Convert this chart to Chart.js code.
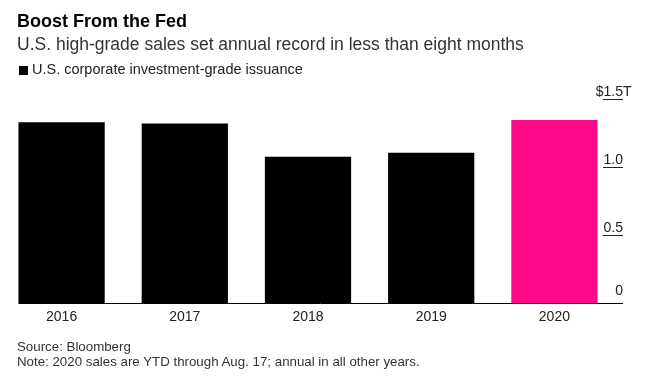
<!DOCTYPE html>
<html>
<head>
<meta charset="utf-8">
<script src="https://cdn.jsdelivr.net/npm/chart.js@4.4.0/dist/chart.umd.min.js"></script>
<style>
  html, body { margin: 0; padding: 0; background: #fff; }
  #wrap { position: relative; width: 648px; height: 384px; overflow: hidden;
          font-family: "Liberation Sans", Arial, sans-serif; color: #222; }
  #chart { position: absolute; left: 0; top: 0; }
  .txt { position: absolute; left: 17px; white-space: nowrap; }
  #title { top: 11px; font-size: 18px; font-weight: bold; color: #000; }
  #subtitle { top: 34px; font-size: 17.5px; color: #333; }
  #legend { top: 61px; left: 18px; font-size: 14.5px; color: #222; }
  #legend span { display: inline-block; width: 9px; height: 9px; background: #000;
                 margin: 0 4px 0 1px; vertical-align: -1px; }
  #source { top: 339px; font-size: 13.3px; color: #333; line-height: 15px; }
</style>
</head>
<body>
<div id="wrap">
  <canvas id="chart" width="648" height="384"></canvas>
  <div class="txt" id="title">Boost From the Fed</div>
  <div class="txt" id="subtitle">U.S. high-grade sales set annual record in less than eight months</div>
  <div class="txt" id="legend"><span></span>U.S. corporate investment-grade issuance</div>
  <div class="txt" id="source">Source: Bloomberg<br>Note: 2020 sales are YTD through Aug. 17; annual in all other years.</div>
</div>
<script>
// data (trillions of dollars)
const years = ['2016', '2017', '2018', '2019', '2020'];
const issuance = [1.33, 1.32, 1.075, 1.105, 1.345];
const barColors = ['#000000', '#000000', '#000000', '#000000', '#ff0a8a'];
const yTicks = [0, 0.5, 1.0, 1.5];
const yTickLabels = ['0', '0.5', '1.0', '$1.5'];
const yUnit = 'T';

// right-hand value labels sit on short rules, Bloomberg style
const rightAxis = {
  id: 'rightAxis',
  afterDatasetsDraw(chart) {
    const ctx = chart.ctx;
    const y = chart.scales.y;
    const first = chart.getDatasetMeta(0).data[0];
    const zero = Math.round(y.getPixelForValue(0)) + 0.5;
    const tickR = 623, tickL = 603;
    ctx.save();
    ctx.strokeStyle = '#000';
    ctx.lineWidth = 1;
    ctx.beginPath();
    ctx.moveTo(first.x - first.width / 2, zero);
    ctx.lineTo(tickR, zero);
    ctx.stroke();

    ctx.font = '14px "Liberation Sans", Arial, sans-serif';
    ctx.fillStyle = '#222';
    ctx.textBaseline = 'alphabetic';
    yTicks.forEach((v, i) => {
      const py = Math.round(y.getPixelForValue(v)) + 0.5;
      if (v !== 0) {
        ctx.strokeStyle = '#222';
        ctx.beginPath();
        ctx.moveTo(tickL, py);
        ctx.lineTo(tickR, py);
        ctx.stroke();
      }
      const ty = py - (v === 0 ? 9 : 4);
      ctx.textAlign = 'right';
      ctx.fillText(yTickLabels[i], tickR, ty);
      if (i === yTicks.length - 1) {
        ctx.textAlign = 'left';
        ctx.fillText(yUnit, tickR, ty);
      }
    });
    ctx.restore();
  }
};

new Chart(document.getElementById('chart'), {
  type: 'bar',
  data: {
    labels: years,
    datasets: [{
      label: 'U.S. corporate investment-grade issuance',
      data: issuance,
      backgroundColor: barColors,
      borderWidth: 0,
      categoryPercentage: 1.0,
      barPercentage: 0.7
    }]
  },
  options: {
    responsive: false,
    animation: false,
    devicePixelRatio: 1,
    layout: { padding: { top: 99, right: 32, left: 0, bottom: 52 } },
    plugins: { legend: { display: false }, tooltip: { enabled: false } },
    scales: {
      x: {
        grid: { display: false, drawTicks: false },
        border: { display: false },
        ticks: {
          color: '#222',
          padding: 6,
          maxRotation: 0,
          font: { family: '"Liberation Sans", Arial, sans-serif', size: 14 }
        }
      },
      y: { display: false, min: 0, max: 1.5 }
    }
  },
  plugins: [rightAxis]
});
</script>
</body>
</html>
